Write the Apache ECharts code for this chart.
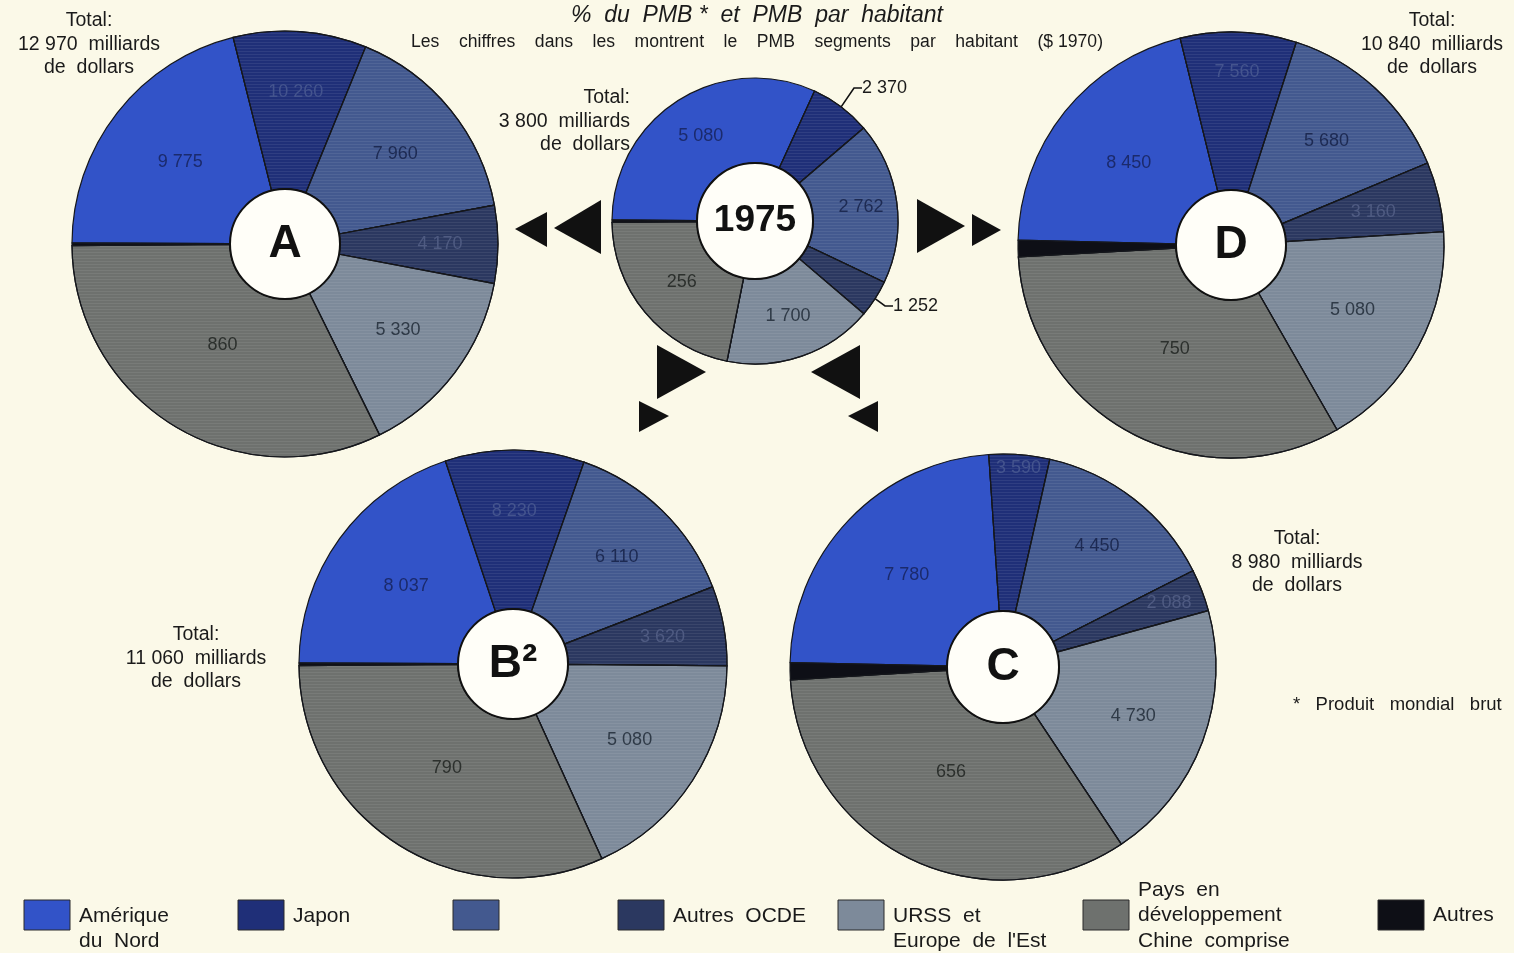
<!DOCTYPE html>
<html><head><meta charset="utf-8">
<script src="https://cdn.jsdelivr.net/npm/echarts@6/dist/echarts.min.js"></script>
<style>html,body{margin:0;padding:0;background:#fbf9e8;}#c{width:1514px;height:953px;}</style>
</head><body><div id="c"></div>
<script>
// ---------- DATA ----------
const categories = ['Amérique du Nord', 'Japon', 'Segment 3', 'Autres OCDE', "URSS et Europe de l'Est", 'Pays en développement Chine comprise', 'Autres'];
const legendLabels = ['Amérique\ndu  Nord', 'Japon', '', 'Autres  OCDE', "URSS  et\nEurope  de  l'Est", 'Pays  en\ndéveloppement\nChine  comprise', 'Autres'];
const pieNames = ['A', '1975', 'D', 'B²', 'C'];
const totals = ['12 970', '3 800', '10 840', '11 060', '8 980'];
// share of world product (%)
const sharesA    = [21.0, 10.1, 15.9, 5.9, 14.7, 32.2, 0.2];
const shares1975 = [31.7, 6.9, 18.3, 4.2, 16.9, 21.7, 0.3];
const sharesD    = [20.8, 8.8, 13.75, 5.3, 17.7, 32.4, 1.25];
const sharesB    = [19.8, 10.5, 13.75, 6.0, 18.05, 31.7, 0.2];
const sharesC    = [23.6, 4.6, 14.0, 3.2, 19.9, 33.4, 1.3];
// product per inhabitant ($ 1970) printed in segments
const perCapA    = ['9 775', '10 260', '7 960', '4 170', '5 330', '860', ''];
const perCap1975 = ['5 080', '2 370', '2 762', '1 252', '1 700', '256', ''];
const perCapD    = ['8 450', '7 560', '5 680', '3 160', '5 080', '750', ''];
const perCapB    = ['8 037', '8 230', '6 110', '3 620', '5 080', '790', ''];
const perCapC    = ['7 780', '3 590', '4 450', '2 088', '4 730', '656', ''];

// ---------- STYLE / LAYOUT ----------
const colors = ['#3253c8', '#1f2f78', '#43598f', '#2b3860', '#7d8a9a', '#6e716e', '#0e0f16'];
const labelColors = ['#1b2a6c', '#44548e', '#1d2a52', '#4f5b82', '#2f3a47', '#2c302d', '#000'];
const FONT = "'Liberation Sans', Arial, Helvetica, sans-serif";
const pies = [
  {shares: sharesA, labels: perCapA, center: [285, 244], r: 213, r0: 55, start: 179.7, fs: 46, labelR: [133, 152, 142, 155, 142, 119, 0]},
  {shares: shares1975, labels: perCap1975, center: [755, 221], r: 143, r0: 58, start: 179.5, fs: 37, labelR: [101, 0, 107, 0, 101, 95, 0]},
  {shares: sharesD, labels: perCapD, center: [1231, 245], r: 213, r0: 55, start: 178.7, fs: 46, labelR: [131, 173, 141, 146, 138, 118, 0]},
  {shares: sharesB, labels: perCapB, center: [513, 664], r: 214, r0: 55, start: 179.7, fs: 46, labelR: [132, 153, 149, 152, 139, 123, 0]},
  {shares: sharesC, labels: perCapC, center: [1003, 667], r: 213, r0: 56, start: 178.8, fs: 46, labelR: [133, 200, 153, 178, 139, 117, 0]}
];
const outsideLabelPos = {1: [862, 88], 3: [893, 306]}; // 1975 callouts
const texture = {symbol: 'rect', symbolSize: 1, dashArrayX: [[1, 0]], dashArrayY: [1, 2], color: 'rgba(255,255,255,0.07)'};

const series = [];
pies.forEach((p, pi) => {
  const is1975 = pi === 1;
  series.push({
    type: 'pie', center: p.center, radius: [p.r0, p.r], startAngle: p.start, clockwise: true,
    silent: true, animation: false, avoidLabelOverlap: false,
    itemStyle: {borderColor: '#15171c', borderWidth: 1.2},
    label: {show: true, position: 'inside', fontFamily: FONT, fontSize: 18},
    labelLine: {show: false},
    labelLayout: function (params) {
      const k = params.dataIndex;
      if (is1975 && outsideLabelPos[k]) {
        return {x: outsideLabelPos[k][0], y: outsideLabelPos[k][1], align: 'left', verticalAlign: 'middle'};
      }
      const rc = params.labelRect;
      const lx = rc.x + rc.width / 2 - p.center[0], ly = rc.y + rc.height / 2 - p.center[1];
      const d = Math.sqrt(lx * lx + ly * ly) || 1;
      const R = p.labelR[k] || d;
      return {x: p.center[0] + lx / d * R, y: p.center[1] + ly / d * R, align: 'center', verticalAlign: 'middle'};
    },
    data: p.shares.map((v, k) => {
      const outside = is1975 && (k === 1 || k === 3);
      return {
        value: v, name: categories[k],
        itemStyle: {color: colors[k], decal: (k > 0 && k < 6) ? texture : null},
        label: outside ? {show: true, position: 'outside', formatter: p.labels[k], color: '#1a1a1a', fontSize: 18}
                       : {formatter: p.labels[k], color: labelColors[k]},
        labelLine: outside ? {show: true, length: 6, length2: 8, lineStyle: {color: '#111', width: 1.6}} : {show: false}
      };
    })
  });
  series.push({
    type: 'pie', center: p.center, radius: [0, p.r0], silent: true, animation: false,
    itemStyle: {color: '#fffef8', borderColor: '#111', borderWidth: 2},
    label: {show: true, position: 'center', formatter: pieNames[pi], fontFamily: FONT, fontWeight: 'bold', fontSize: p.fs, color: '#111'},
    labelLine: {show: false},
    data: [{value: 1, name: pieNames[pi]}]
  });
});

// ---------- annotations ----------
const g = [];
const txt = (x, y, text, opt) => g.push({type: 'text', x, y, silent: true, style: Object.assign({text, fontFamily: FONT, fontSize: 18, fill: '#1a1a1a', lineHeight: 23.5}, opt || {})});
txt(757, 16, '%  du  PMB *  et  PMB  par  habitant', {align: 'center', verticalAlign: 'middle', fontStyle: 'italic', fontSize: 23});
txt(757, 42, 'Les    chiffres    dans    les    montrent    le    PMB    segments    par    habitant    ($ 1970)', {align: 'center', verticalAlign: 'middle', fontSize: 17.6});
const totalPos = [[89, 9, 'center'], [630, 86, 'right'], [1432, 9, 'center'], [196, 623, 'center'], [1297, 527, 'center']];
totals.forEach((t, i) => txt(totalPos[i][0], totalPos[i][1], 'Total:\n' + t + '  milliards\nde  dollars', {align: totalPos[i][2], verticalAlign: 'top', fontSize: 19.5}));
txt(1293, 705, '*   Produit   mondial   brut', {verticalAlign: 'middle', fontSize: 18.5});

const tri = [
  [[515, 229], [547, 212], [547, 247]], [[554, 228], [601, 200], [601, 254]],
  [[965, 226], [917, 199], [917, 253]], [[1001, 230], [972, 214], [972, 246]],
  [[657, 345], [706, 372], [657, 399]], [[639, 401], [669, 416], [639, 432]],
  [[860, 345], [811, 372], [860, 399]], [[878, 401], [848, 416], [878, 432]]
];
tri.forEach(pts => g.push({type: 'polygon', silent: true, shape: {points: pts}, style: {fill: '#111'}}));

const legendX = [24, 238, 453, 618, 838, 1083, 1378];
const legendTextY = [903, 903, 903, 903, 903, 877, 902];
categories.forEach((c, i) => {
  g.push({type: 'rect', silent: true, shape: {x: legendX[i], y: 900, width: 46, height: 30}, style: {fill: colors[i], stroke: '#2a2a2a', lineWidth: 1}});
  if (legendLabels[i]) txt(legendX[i] + 55, legendTextY[i], legendLabels[i], {verticalAlign: 'top', fontSize: 21, lineHeight: 25.5});
});

const chart = echarts.init(document.getElementById('c'), null, {renderer: 'canvas'});
chart.setOption({backgroundColor: '#fbf9e8', animation: false, series, graphic: g});
</script></body></html>
